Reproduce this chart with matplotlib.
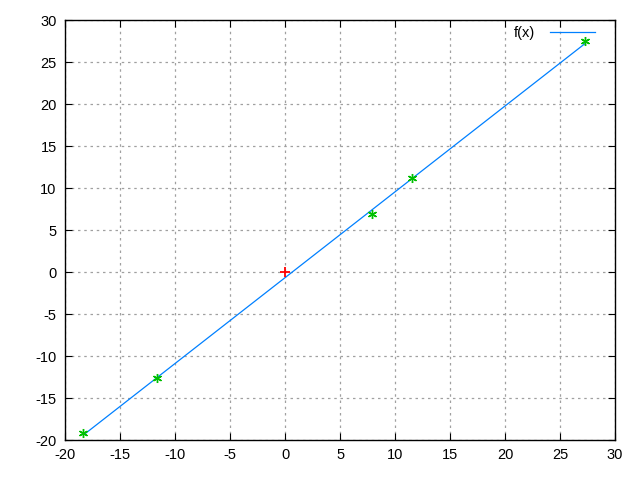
import matplotlib
matplotlib.use("Agg")
import matplotlib.pyplot as plt
import numpy as np

# Datos
px = [-18.34, -11.66, 7.94, 11.55, 27.25]
py = [-19.21, -12.57, 6.89, 11.26, 27.5]
origen_x = [0]
origen_y = [0]
xticks = list(range(-20, 31, 5))
yticks = list(range(-20, 31, 5))

plt.rcParams['font.family'] = ['Liberation Sans', 'DejaVu Sans']
plt.rcParams['axes.unicode_minus'] = False

# recta ajustada f(x) por minimos cuadrados
a, b = np.polyfit(px, py, 1)
fx = np.array([min(px), max(px)])
fy = a * fx + b

fig = plt.figure(figsize=(6.4, 4.8), dpi=100)
ax = fig.add_axes([0.1016, 0.0833, 0.8594, 0.8740])

ax.plot(fx, fy, color='#0080ff', lw=0.9, label='f(x)')
ax.plot(px, py, ls='none', marker=(6, 2, 0), ms=6.5, mew=1.0, color='#00c000')
ax.plot(origen_x, origen_y, ls='none', marker='+', ms=7, mew=1.3, color='#ff0000')

ax.set_xlim(-20, 30)
ax.set_ylim(-20, 30)
ax.set_xticks(xticks)
ax.set_yticks(yticks)
ax.tick_params(direction='in', top=True, right=True, length=5, labelsize=10.5, pad=6)
ax.grid(True, color='#a0a0a0', ls=(0, (2, 3)), lw=0.9)
for s in ax.spines.values():
    s.set_linewidth(1.0)

leg = ax.legend(loc='upper right', bbox_to_anchor=(0.974, 1.0), frameon=False,
                fontsize=10.5, handlelength=3.1, handletextpad=1.0,
                borderaxespad=0, markerfirst=False)

fig.savefig('out.png', dpi=100)
